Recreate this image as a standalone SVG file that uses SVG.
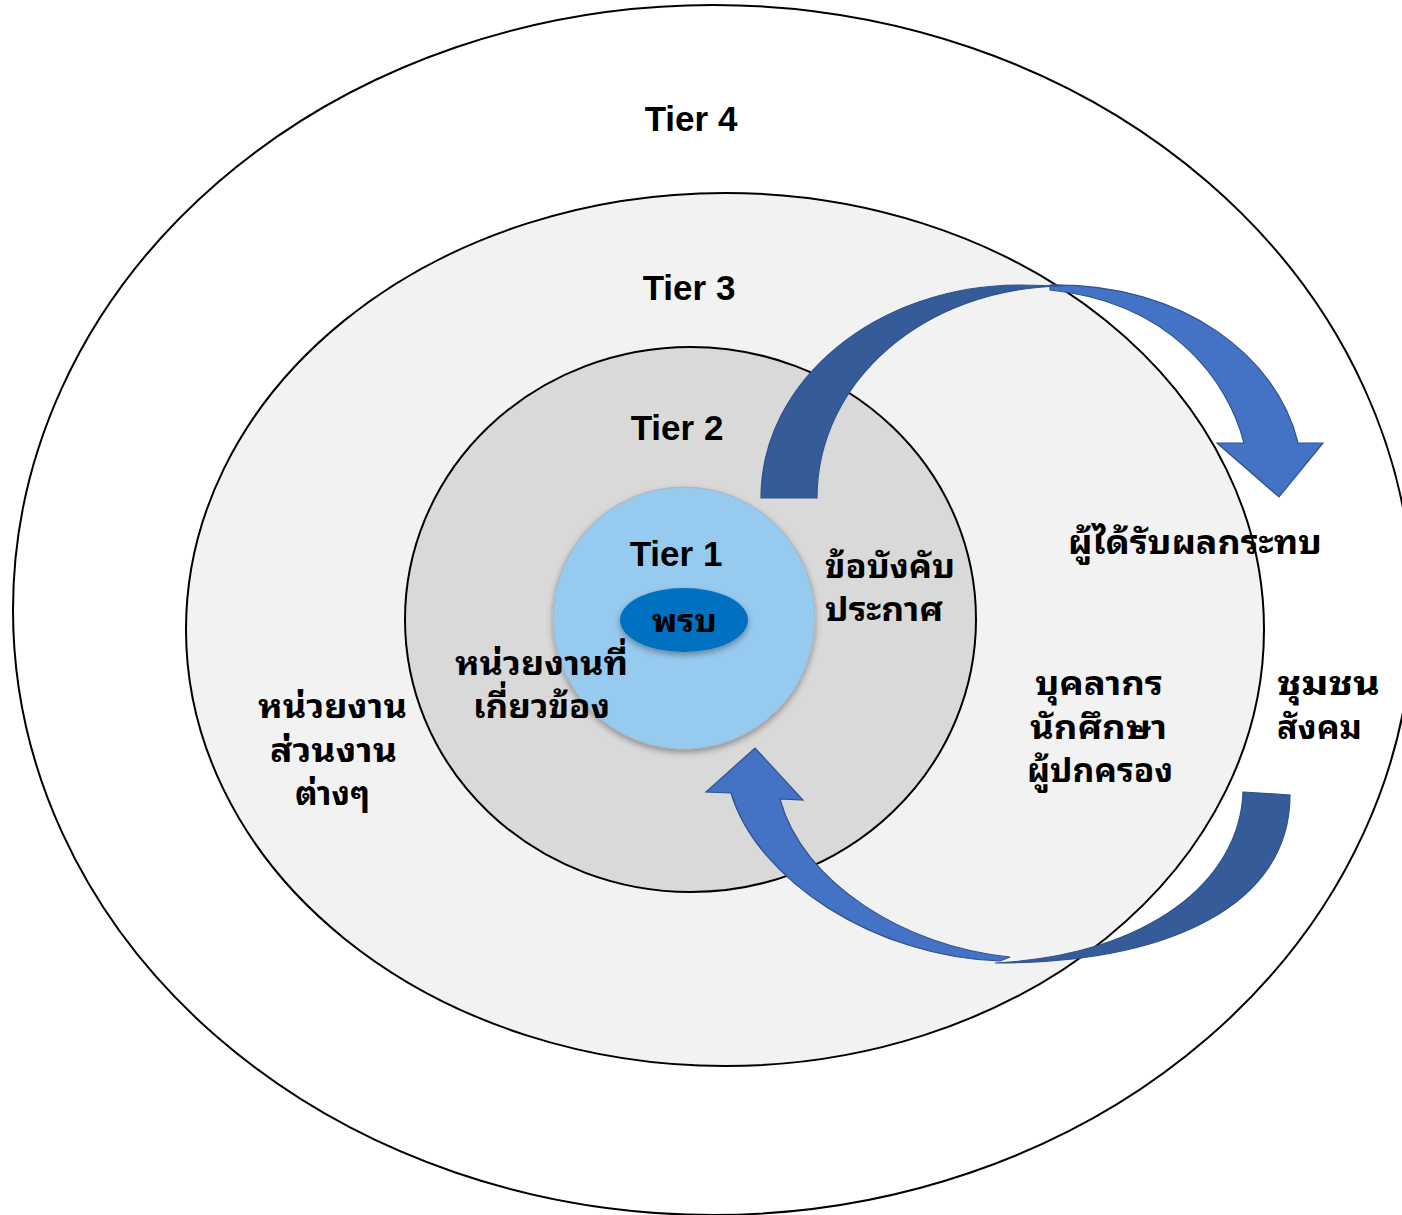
<svg xmlns="http://www.w3.org/2000/svg" width="1402" height="1215" viewBox="0 0 1402 1215">
<style>
.ring{stroke:#000;stroke-width:2}
.t{font-family:"Liberation Sans","Noto Sans Thai Looped","Noto Sans Thai","Noto Sans",Tahoma,sans-serif;font-weight:bold;fill:#000}
.tier{font-size:35px;text-anchor:middle}
.th{font-size:33px}
.c{text-anchor:middle}
.dark{fill:#355b99;stroke:#2f528f;stroke-width:1.2}
.light{fill:#4472c4;stroke:#2f528f;stroke-width:1.2}
</style>
<defs>
<filter id="sh" x="-20%" y="-20%" width="140%" height="140%">
<feDropShadow dx="0" dy="3" stdDeviation="3" flood-color="#000" flood-opacity="0.35"/>
</filter>
</defs>
<rect width="1402" height="1215" fill="#fff"/>
<g id="tier4"><ellipse class="ring" cx="713" cy="610" rx="700" ry="605" fill="#fff"/><text class="t tier" x="691" y="131">Tier 4</text></g>
<g id="tier3"><ellipse class="ring" cx="725" cy="629.5" rx="539" ry="436.5" fill="#f2f2f2"/><text class="t tier" x="689" y="300">Tier 3</text></g>
<g id="tier2"><ellipse class="ring" cx="690.5" cy="619.5" rx="285.5" ry="272.5" fill="#d9d9d9"/><text class="t tier" x="677" y="440">Tier 2</text></g>
<g id="tier1"><circle cx="684" cy="618" r="131" fill="#97caef" stroke="#a6b4c0" stroke-width="1" filter="url(#sh)"/><text class="t tier" x="676" y="566">Tier 1</text></g>
<g id="act"><ellipse cx="684" cy="620" rx="64" ry="32" fill="#0070c0" filter="url(#sh)"/><text class="t" x="652" y="632" font-size="32" textLength="65" lengthAdjust="spacingAndGlyphs">พรบ</text></g>
<g id="connectors">
<path class="light" d="M1050,285 C1185,283 1278,358 1298,443 L1323,443 L1279,497 L1217,443 L1244,443 C1228,380 1170,302 1050,290 Z"/>
<path class="dark" d="M761,498 C761,380.4 877,285 1020,285 L1065,286 C923.6,287 817,381.5 817,498 Z"/>
<path class="dark" d="M1243,792 L1290,795 C1290,905 1170,963 995,963 C1150,955 1240,880 1243,792 Z"/>
<path class="light" d="M1000,961 C875,957 757,880 731,793 L706,792 L755,748 L803,800 L780,799 C802,882 905,947 1010,957 Z"/>
</g>
<g id="label-rules"><text class="t th" x="825" y="578" textLength="130" lengthAdjust="spacingAndGlyphs">ข้อบังคับ</text><text class="t th" x="825" y="621" textLength="118" lengthAdjust="spacingAndGlyphs">ประกาศ</text></g>
<g id="label-affected"><text class="t th" x="1068" y="554" textLength="254" lengthAdjust="spacingAndGlyphs">ผู้ได้รับผลกระทบ</text></g>
<g id="label-people"><text class="t th" x="1035" y="695" textLength="128" lengthAdjust="spacingAndGlyphs">บุคลากร</text><text class="t th" x="1030" y="739" textLength="137" lengthAdjust="spacingAndGlyphs">นักศึกษา</text><text class="t th" x="1027" y="782" textLength="146" lengthAdjust="spacingAndGlyphs">ผู้ปกครอง</text></g>
<g id="label-community"><text class="t th" x="1277" y="695" textLength="103" lengthAdjust="spacingAndGlyphs">ชุมชน</text><text class="t th" x="1277" y="739" textLength="85" lengthAdjust="spacingAndGlyphs">สังคม</text></g>
<g id="label-units"><text class="t th" x="258" y="718" textLength="149" lengthAdjust="spacingAndGlyphs">หน่วยงาน</text><text class="t th" x="270" y="762" textLength="127" lengthAdjust="spacingAndGlyphs">ส่วนงาน</text><text class="t th" x="295" y="805" textLength="75" lengthAdjust="spacingAndGlyphs">ต่างๆ</text></g>
<g id="label-related"><text class="t th" x="455" y="675" textLength="173" lengthAdjust="spacingAndGlyphs">หน่วยงานที่</text><text class="t th" x="473" y="718" textLength="137" lengthAdjust="spacingAndGlyphs">เกี่ยวข้อง</text></g>
</svg>
